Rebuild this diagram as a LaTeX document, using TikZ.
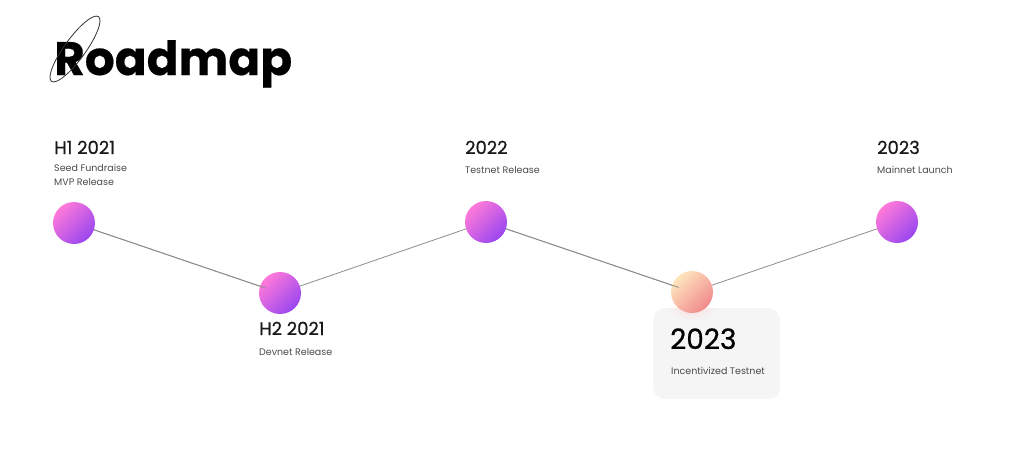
\documentclass[tikz,border=0pt]{standalone}
\usepackage{fontspec}
\setmainfont{Poppins}
\newfontfamily\hdfont{Poppins}[FakeBold=0.6]
\newfontfamily\ttlfont{Poppins}[FakeBold=0.4]
\definecolor{pinkA}{HTML}{FF7AD9}
\definecolor{purpB}{HTML}{9A46F0}
\definecolor{peachA}{HTML}{FFE6BE}
\definecolor{peachB}{HTML}{F08A8C}
\definecolor{linegray}{HTML}{8C8C8C}
\definecolor{subgray}{HTML}{4A4A4A}
\definecolor{boxgray}{HTML}{F5F5F5}
\tikzset{
  ball/.style={circle, minimum size=42pt, inner sep=0pt, left color=pinkA, right color=purpB, shading angle=45},
  peachball/.style={circle, minimum size=42pt, inner sep=0pt, left color=peachA, right color=peachB, shading angle=45},
  heading/.style={anchor=base west, inner sep=0pt, font=\hdfont\fontsize{18}{20}\selectfont, text=black!90},
  sub/.style={anchor=base west, inner sep=0pt, font=\fontsize{9.5}{14}\selectfont, text=subgray, align=left},
  conn/.style={draw=linegray, line width=0.8pt},
}
\begin{document}
\begin{tikzpicture}[x=1pt,y=-1pt]
\useasboundingbox (0,0) rectangle (1024,458);
% title
\node[anchor=base west, inner sep=0pt, font=\ttlfont\bfseries\fontsize{47}{52}\selectfont] (title) at (54,75) {Roadmap};
\draw[black!80, line width=0.8pt, rotate around={54:(75,49)}] (75,49) ellipse [x radius=40, y radius=10.5];
% info box
\node[draw=none, fill=boxgray, rounded corners=12pt, minimum width=127pt, minimum height=91pt, anchor=north west, inner sep=0pt] (box) at (653,308) {};
\begin{scope}
\clip[rounded corners=12pt] (box.north west) rectangle (box.south east);
\shade[inner color=peachB!35, outer color=boxgray] (692,300) ellipse [x radius=28, y radius=22];
\end{scope}
% connectors
\coordinate (p1) at (74,223);
\coordinate (p2) at (280,293);
\coordinate (p3) at (486,222);
\coordinate (p4) at (692,292);
\coordinate (p5) at (897,222);
\draw[conn] (p1) -- (p2);
\draw[conn] (p2) -- (p3);
\draw[conn] (p3) -- (p4);
\draw[conn] (p4) -- (p5);
% balls
\node[ball] (b1) at (p1) {};
\node[ball] (b2) at (p2) {};
\node[ball] (b3) at (p3) {};
\node[peachball] (b4) at (p4) {};
\node[ball] (b5) at (p5) {};
% visible line tips inside lower balls
\path (p1) -- (p2) coordinate[pos=0.93] (t2);
\draw[conn] (b1) -- (t2);
\path (p3) -- (p4) coordinate[pos=0.935] (t4);
\draw[conn] (b3) -- (t4);
% texts
\node[heading] (h1) at (54,154) {H1 2021};
\node[sub, anchor=north west] (s1) at (54,164) {Seed Fundraise\\MVP Release};
\node[heading] (h2) at (259,335) {H2 2021};
\node[sub] (s2) at (259,355) {Devnet Release};
\node[heading] (h3) at (465,154) {2022};
\node[sub] (s3) at (465,173) {Testnet Release};
\node[heading] (h5) at (877,154) {2023};
\node[sub] (s5) at (877,173) {Mainnet Launch};
\node[anchor=base west, inner sep=0pt, font=\hdfont\fontsize{28}{30}\selectfont] (h4) at (670,349) {2023};
\node[sub] (s4) at (671,374) {Incentivized Testnet};
\end{tikzpicture}
\end{document}
